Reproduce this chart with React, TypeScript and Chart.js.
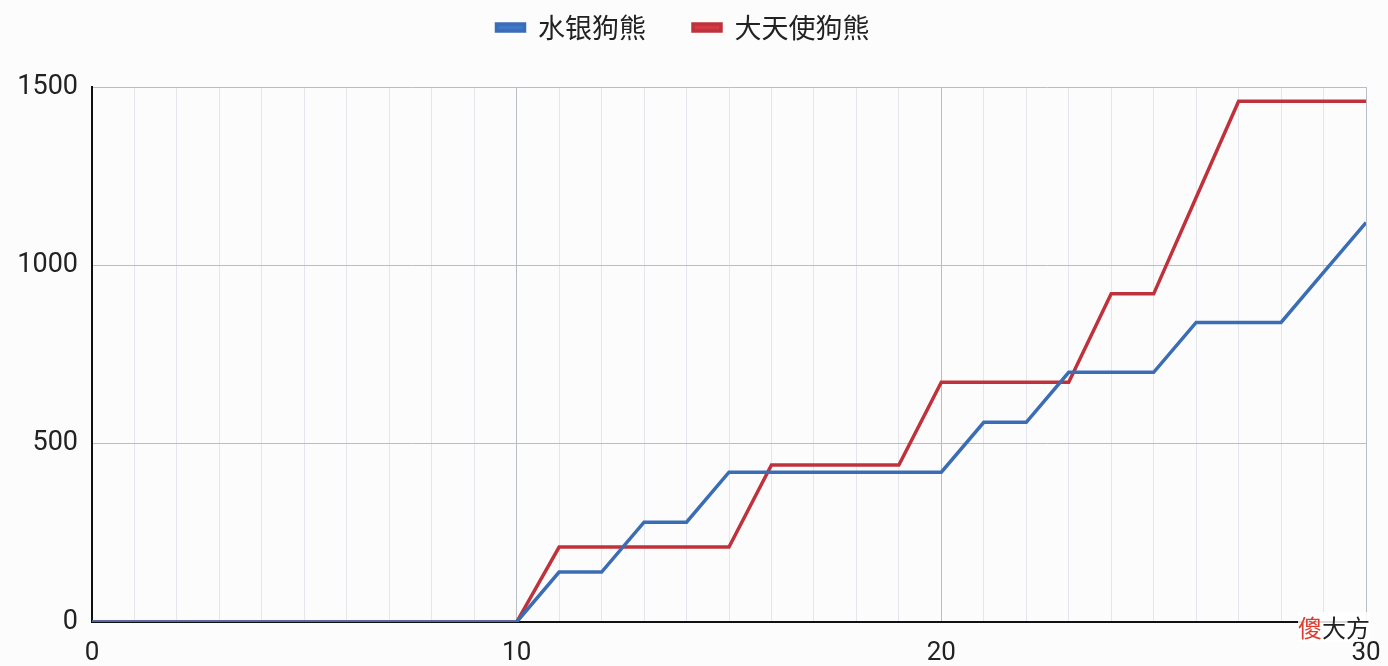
import { useEffect, useRef } from 'react'
import { Chart, registerables } from 'chart.js'

Chart.register(...registerables)

const xValues = [0, 1, 2, 3, 4, 5, 6, 7, 8, 9, 10, 11, 12, 13, 14, 15, 16, 17, 18, 19, 20, 21, 22, 23, 24, 25, 26, 27, 28, 29, 30]
const mercuryBear = [0, 0, 0, 0, 0, 0, 0, 0, 0, 0, 0, 140, 140, 280, 280, 420, 420, 420, 420, 420, 420, 560, 560, 700, 700, 700, 840, 840, 840, 980, 1120]
const archangelBear = [0, 0, 0, 0, 0, 0, 0, 0, 0, 0, 0, 210, 210, 210, 210, 210, 440, 440, 440, 440, 672, 672, 672, 672, 920, 920, 1190, 1460, 1460, 1460, 1460]
const seriesNames = ['水银狗熊', '大天使狗熊']
const yTicks = [0, 500, 1000, 1500]

const CJK = "'Noto Sans CJK SC', 'Noto Sans', sans-serif"
const NUM = "Roboto, 'Liberation Sans', sans-serif"

export default function App() {
  const canvasRef = useRef<HTMLCanvasElement>(null)
  const chartRef = useRef<Chart | null>(null)

  useEffect(() => {
    document.body.style.margin = '0'
    if (!canvasRef.current) return
    chartRef.current?.destroy()
    chartRef.current = new Chart(canvasRef.current, {
      type: 'line',
      data: {
        datasets: [
          {
            label: seriesNames[0],
            data: xValues.map((x, i) => ({ x, y: mercuryBear[i] })),
            borderColor: '#3b6db4',
            backgroundColor: '#3d78cc',
            borderWidth: 3.5,
            pointRadius: 0,
          },
          {
            label: seriesNames[1],
            data: xValues.map((x, i) => ({ x, y: archangelBear[i] })),
            borderColor: '#c0323b',
            backgroundColor: '#d23a44',
            borderWidth: 3.5,
            pointRadius: 0,
          },
        ],
      },
      options: {
        responsive: false,
        animation: false,
        layout: { padding: { top: -33, right: 22, left: 0, bottom: 0 } },
        plugins: {
          legend: {
            position: 'top',
            labels: {
              color: '#222',
              font: { family: CJK, size: 27 },
              boxWidth: 28,
              boxHeight: 7,
              padding: 47,
            },
          },
          tooltip: { enabled: false },
        },
        scales: {
          x: {
            type: 'linear',
            min: 0,
            max: 30,
            ticks: {
              stepSize: 1,
              autoSkip: false,
              maxRotation: 0,
              color: '#222',
              font: { family: NUM, size: 26 },
              padding: 16,
              callback: v => (Number(v) % 10 === 0 ? String(v) : ''),
            },
            grid: {
              color: ctx => (ctx.tick && ctx.tick.value % 10 === 0 ? '#b9bec6' : '#e3e6ea'),
              lineWidth: 1,
              drawTicks: false,
            },
            border: { color: '#111', width: 2 },
            afterFit: scale => {
              scale.height = 44
              scale.paddingLeft = 0
              scale.paddingRight = 0
            },
          },
          y: {
            min: 0,
            max: 1500,
            afterBuildTicks: scale => { scale.ticks = yTicks.map(value => ({ value })) },
            ticks: {
              color: '#222',
              font: { family: NUM, size: 27 },
              padding: 14,
              callback: v => String(v),
            },
            grid: { color: '#b9bec6', lineWidth: 1, drawTicks: false },
            border: { color: '#111', width: 2 },
            afterFit: scale => { scale.width = 92 },
          },
        },
      },
      plugins: [
        {
          id: 'legendGap',
          beforeInit: chart => {
            const legend = chart.legend as any
            if (!legend) return
            const fit = legend.fit
            legend.fit = function () {
              fit.call(this)
              this.height += 36
            }
          },
        },
        {
          id: 'frame',
          afterDraw: chart => {
            const { ctx, chartArea } = chart
            ctx.save()
            ctx.strokeStyle = '#b9bec6'
            ctx.lineWidth = 1
            ctx.beginPath()
            ctx.moveTo(chartArea.right + 0.5, chartArea.top)
            ctx.lineTo(chartArea.right + 0.5, chartArea.bottom)
            ctx.stroke()
            ctx.restore()
          },
        },
      ],
    })
    return () => chartRef.current?.destroy()
  }, [])

  return (
    <div style={{ position: 'relative', width: 1388, height: 666, background: '#fcfcfd' }}>
      <canvas ref={canvasRef} width={1388} height={666} />
      <div style={{ position: 'absolute', left: 1298, top: 612, fontFamily: CJK, fontSize: 24, lineHeight: '30px', color: '#222', background: 'rgba(255,255,255,0.85)' }}>
        <span style={{ color: '#e03a2c' }}>傻</span>大方
      </div>
    </div>
  )
}
